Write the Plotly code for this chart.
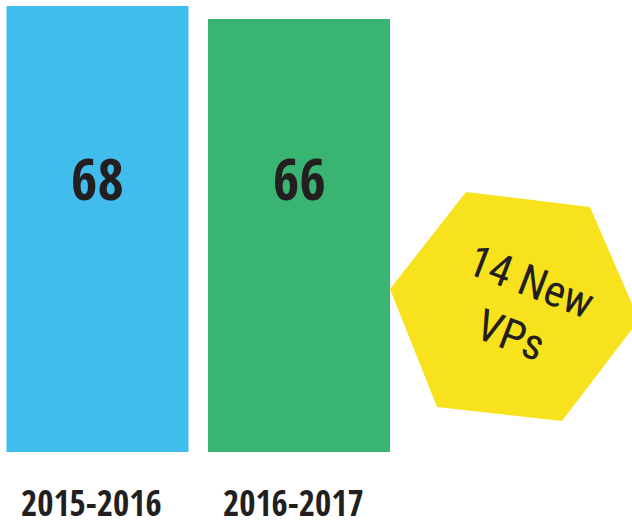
import plotly.graph_objects as go

categories = ["2015-2016", "2016-2017"]
values = [68, 66]
bar_colors = ["#40BDEC", "#3AB472"]
callout_text = "14 New<br>VPs"
value_label_level = 41.8  # data units where the value labels sit

W, H = 632, 529
plot_h = 452  # pixel bottom of bars
px_per_unit = 446 / 68.0
bar_spacing = 201.5
x0_px = 97.5

BOLD = "Open Sans Condensed, Roboto Condensed, sans-serif"
THIN = "Roboto Condensed, sans-serif"
INK = "#231F20"

fig = go.Figure()
fig.add_trace(go.Bar(
    x=list(range(len(values))), y=values,
    marker=dict(color=bar_colors, line=dict(width=0)),
    width=182 / bar_spacing,
    hoverinfo="skip",
))

for i, v in enumerate(values):
    fig.add_annotation(x=i, y=value_label_level, xref="x", yref="y", text=f"<b>{v}</b>",
                       showarrow=False, xanchor="center", yanchor="middle",
                       font=dict(family=BOLD, size=57, color=INK))

xr = [-x0_px / bar_spacing, (W - x0_px) / bar_spacing]
yr = [0, plot_h / px_per_unit]

def to_paper(px, py):
    return (px / W, (plot_h - py) / plot_h)

hex_px = [(466, 192), (590, 207), (639, 320), (562, 421), (437, 407), (390, 289)]
pts = [to_paper(*p) for p in hex_px]
path = "M " + " L ".join(f"{x:.4f},{y:.4f}" for x, y in pts) + " Z"
fig.add_shape(type="path", path=path, xref="paper", yref="paper",
              fillcolor="#F8E21E", line=dict(width=0), layer="above")

cx, cy = to_paper(521, 308)
fig.add_annotation(x=cx, y=cy, xref="paper", yref="paper", text=callout_text,
                   showarrow=False, textangle=21, xanchor="center", yanchor="middle",
                   font=dict(family=THIN, size=44, color=INK, weight=400))

for i, c in enumerate(categories):
    fig.add_annotation(x=i, y=-(528 - plot_h) / plot_h, xref="x", yref="paper", text=f"<b>{c}</b>",
                       xshift=-6, showarrow=False, xanchor="center", yanchor="bottom",
                       font=dict(family=BOLD, size=35, color=INK))

fig.update_layout(
    width=W, height=H,
    margin=dict(l=0, r=0, t=0, b=H - plot_h),
    paper_bgcolor="white", plot_bgcolor="white",
    showlegend=False,
    xaxis=dict(range=xr, visible=False, fixedrange=True),
    yaxis=dict(range=yr, visible=False, fixedrange=True),
)
fig.write_html("out.html", config={"displayModeBar": False},
               post_script="document.body.style.margin='0';")
